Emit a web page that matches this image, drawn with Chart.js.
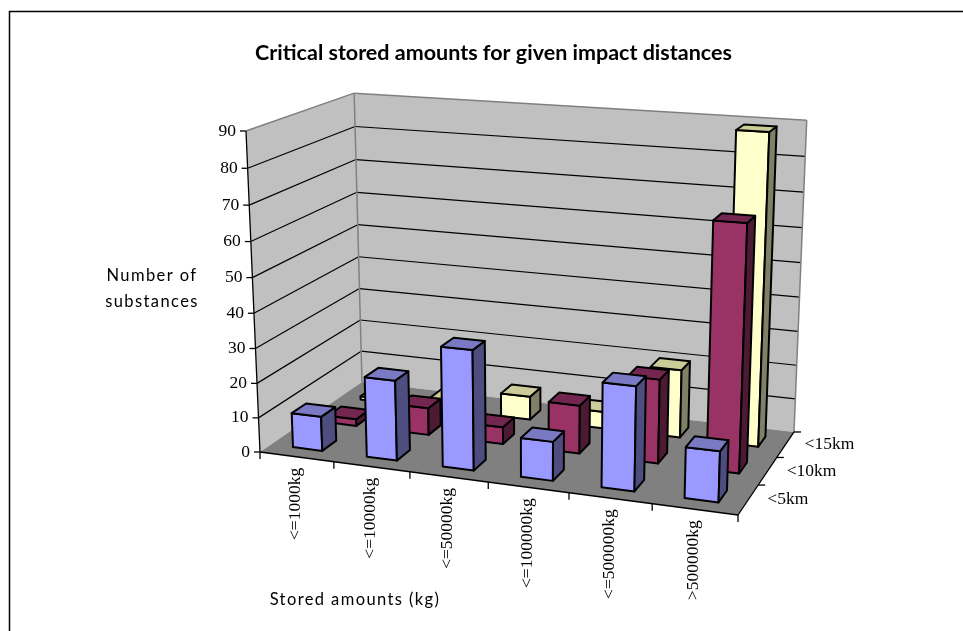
<!DOCTYPE html>
<html>
<head>
<meta charset="utf-8">
<title>Critical stored amounts</title>
<script src="https://cdn.jsdelivr.net/npm/chart.js@4"></script>
<style>
  html, body { margin: 0; padding: 0; background: #fff; }
  canvas { display: block; }
</style>
</head>
<body>
<canvas id="myChart" width="963" height="631"></canvas>
<script>
const amounts = ['<=1000kg', '<=10000kg', '<=50000kg', '<=100000kg', '<=500000kg', '>500000kg'];
const distances = ['<5km', '<10km', '<15km'];
const within5km = [10, 23, 34, 11, 29, 14];
const within10km = [2, 8, 5, 14, 24, 69];
const within15km = [1, 3, 7, 5, 20, 89];
const valueTicks = [0, 10, 20, 30, 40, 50, 60, 70, 80, 90];

// corners of the 3d box on screen, and the weights that give it perspective
const origin = [260, 452], uEnd = [738, 515], vEnd = [362, 382], wEnd = [246, 131];
const wu = 0.914, wv = 1.1176, ww = 0.9517;

const project = (u, v, w) => {
  const d = 1 + u * (wu - 1) + v * (wv - 1) + w * (ww - 1);
  return [0, 1].map(i => (origin[i]
    + u * (wu * uEnd[i] - origin[i])
    + v * (wv * vEnd[i] - origin[i])
    + w * (ww * wEnd[i] - origin[i])) / d);
};

const unit = (scale, px) => (px - scale.left) / scale.width;
const unitY = (scale, value) => (scale.bottom - scale.getPixelForValue(value)) / scale.height;

const face = (ctx, pts, fill, stroke, lineWidth) => {
  ctx.beginPath();
  pts.forEach((p, i) => i ? ctx.lineTo(p[0], p[1]) : ctx.moveTo(p[0], p[1]));
  ctx.closePath();
  if (fill) { ctx.fillStyle = fill; ctx.fill(); }
  if (stroke) { ctx.strokeStyle = stroke; ctx.lineWidth = lineWidth; ctx.lineJoin = 'round'; ctx.stroke(); }
};

const segment = (ctx, a, b, color, lineWidth) => {
  ctx.beginPath();
  ctx.moveTo(a[0], a[1]);
  ctx.lineTo(b[0], b[1]);
  ctx.strokeStyle = color;
  ctx.lineWidth = lineWidth;
  ctx.stroke();
};

// bar controller that draws each bar as a box, placed through the x, y and z scales
class Bar3DController extends Chart.BarController {
  draw() {
    const ctx = this.chart.ctx;
    const { x, y, z } = this.chart.scales;
    const ds = this.getDataset();
    const row = this.index;
    const halfU = 0.4 * (unit(x, x.getPixelForValue(1)) - unit(x, x.getPixelForValue(0))) / 2;
    const halfV = 0.4 * (unit(z, z.getPixelForValue(1)) - unit(z, z.getPixelForValue(0))) / 2;
    const vc = unit(z, z.getPixelForValue(row));

    ctx.save();
    this._cachedMeta.data.forEach((el, i) => {
      const uc = unit(x, x.getPixelForValue(i));
      const top = unitY(y, this.getParsed(i).y);
      const u0 = uc - halfU, u1 = uc + halfU, v0 = vc - halfV, v1 = vc + halfV;
      face(ctx, [project(u0, v0, 0), project(u1, v0, 0), project(u1, v0, top), project(u0, v0, top)], ds.backgroundColor, '#000', 2);
      face(ctx, [project(u1, v0, 0), project(u1, v1, 0), project(u1, v1, top), project(u1, v0, top)], ds.sideColor, '#000', 2);
      face(ctx, [project(u0, v0, top), project(u1, v0, top), project(u1, v1, top), project(u0, v1, top)], ds.topColor, '#000', 2);
    });
    ctx.restore();
  }
}
Bar3DController.id = 'bar3d';
Bar3DController.defaults = Chart.BarController.defaults;
Chart.register(Bar3DController);

const boxAxes = {
  id: 'boxAxes',
  beforeDatasetsDraw(chart) {
    const ctx = chart.ctx;
    const { x, y, z } = chart.scales;

    ctx.save();
    ctx.strokeStyle = '#000';
    ctx.lineWidth = 1.5;
    ctx.beginPath();
    ctx.moveTo(9.5, chart.height);
    ctx.lineTo(9.5, 11.5);
    ctx.lineTo(chart.width, 11.5);
    ctx.stroke();
    ctx.restore();

    ctx.save();
    // walls and floor
    face(ctx, [project(0, 0, 0), project(0, 1, 0), project(0, 1, 1), project(0, 0, 1)], '#c0c0c0');
    face(ctx, [project(0, 1, 0), project(1, 1, 0), project(1, 1, 1), project(0, 1, 1)], '#c0c0c0');
    face(ctx, [project(0, 0, 0), project(1, 0, 0), project(1, 1, 0), project(0, 1, 0)], '#808080');

    // gridlines along both walls
    valueTicks.forEach(t => {
      const w = unitY(y, t);
      if (t > 0 && t < valueTicks[valueTicks.length - 1]) {
        segment(ctx, project(0, 0, w), project(0, 1, w), '#000', 1.2);
        segment(ctx, project(0, 1, w), project(1, 1, w), '#000', 1.2);
      }
    });
    segment(ctx, project(0, 0, 1), project(0, 1, 1), '#808080', 1.5);
    segment(ctx, project(0, 1, 1), project(1, 1, 1), '#808080', 1.5);
    segment(ctx, project(0, 1, 0), project(0, 1, 1), '#808080', 1.5);
    segment(ctx, project(1, 1, 0), project(1, 1, 1), '#808080', 1.5);

    // axis lines
    segment(ctx, project(0, 0, 0), project(0, 0, 1), '#000', 1.3);
    segment(ctx, project(0, 0, 0), project(1, 0, 0), '#000', 1.3);
    segment(ctx, project(1, 0, 0), project(1, 1, 0), '#000', 1.3);

    ctx.fillStyle = '#000';
    ctx.font = '17.5px "Liberation Serif"';

    // value axis
    ctx.textAlign = 'right';
    ctx.textBaseline = 'middle';
    valueTicks.forEach(t => {
      const p = project(0, 0, unitY(y, t));
      segment(ctx, p, [p[0] - 6, p[1]], '#000', 1.3);
      ctx.fillText(String(t), p[0] - 10, p[1]);
    });

    // category axis, labels turned to read upwards
    amounts.forEach((label, i) => {
      const p = project(unit(x, x.getPixelForValue(i) - x.width / amounts.length / 2), 0, 0);
      segment(ctx, p, [p[0], p[1] + 7], '#000', 1.3);
      const c = project(unit(x, x.getPixelForValue(i)), 0, 0);
      ctx.save();
      ctx.translate(c[0] - 1, c[1] + 11);
      ctx.rotate(-Math.PI / 2);
      ctx.textAlign = 'right';
      ctx.textBaseline = 'middle';
      ctx.fillText(label, 0, 0);
      ctx.restore();
    });
    const end = project(1, 0, 0);
    segment(ctx, end, [end[0], end[1] + 7], '#000', 1.3);

    // depth axis
    ctx.textAlign = 'left';
    ctx.textBaseline = 'middle';
    distances.forEach((label, i) => {
      const p = project(1, unit(z, z.getPixelForValue(i) + z.width / distances.length / 2), 0);
      segment(ctx, p, [p[0] + 7, p[1]], '#000', 1.3);
      const c = project(1, unit(z, z.getPixelForValue(i)), 0);
      ctx.fillText(label, c[0] + 19, c[1]);
    });

    // axis titles
    ctx.font = '16.5px Lato';
    ctx.letterSpacing = '1.4px';
    ctx.textAlign = 'center';
    y.options.title.text.forEach((line, i) => ctx.fillText(line, 152, 276 + i * 26));
    ctx.fillText(x.options.title.text, 355, 600);
    ctx.restore();
  }
};

const ctx = document.getElementById('myChart').getContext('2d');
const chart = new Chart(ctx, {
  type: 'bar3d',
  plugins: [boxAxes],
  data: {
    labels: amounts,
    datasets: [
      { label: distances[0], data: within5km, backgroundColor: '#9999ff', sideColor: '#4d4d80', topColor: '#7a7ac4', clip: false },
      { label: distances[1], data: within10km, backgroundColor: '#993366', sideColor: '#4d1a33', topColor: '#732650', clip: false },
      { label: distances[2], data: within15km, backgroundColor: '#ffffcc', sideColor: '#808066', topColor: '#cccc99', clip: false }
    ]
  },
  options: {
    responsive: false,
    animation: false,
    layout: { padding: { left: 24 } },
    plugins: {
      legend: { display: false },
      tooltip: { enabled: false },
      title: {
        display: true,
        text: 'Critical stored amounts for given impact distances',
        color: '#000',
        font: { family: 'Lato', size: 21.5, weight: 'bold' },
        padding: { top: 40, bottom: 10 }
      }
    },
    scales: {
      x: { type: 'category', display: false, title: { text: 'Stored amounts (kg)' } },
      y: { type: 'linear', display: false, min: 0, max: 90, title: { text: ['Number of', 'substances'] } },
      z: { type: 'category', axis: 'x', display: false, labels: distances }
    }
  }
});
</script>
</body>
</html>
